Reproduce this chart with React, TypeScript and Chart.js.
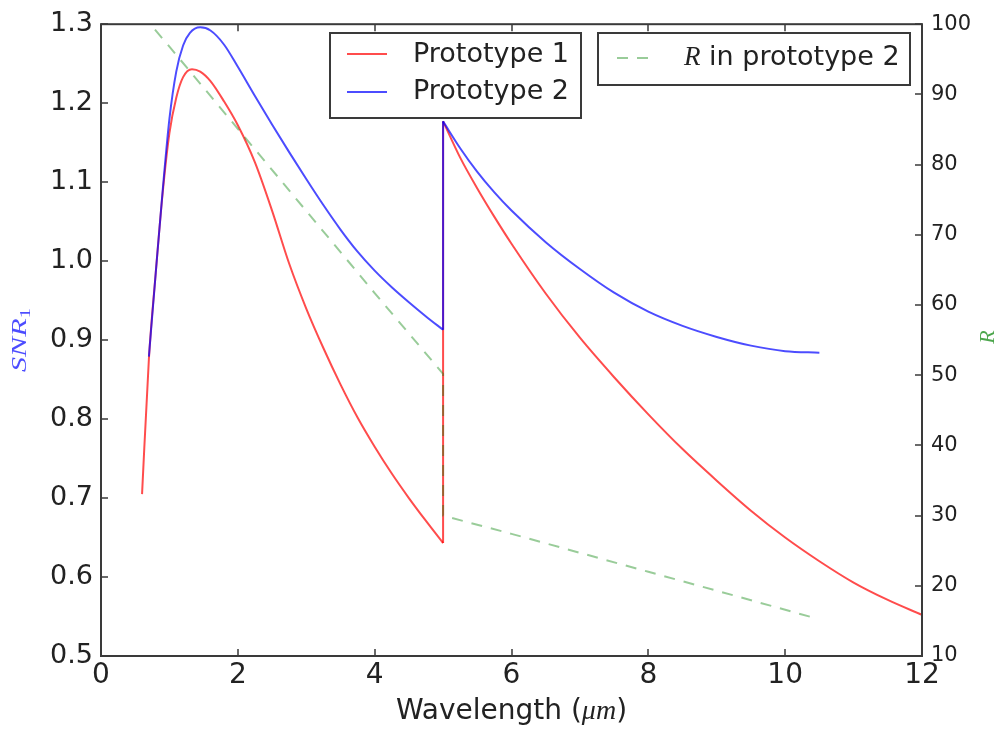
import React, { useEffect, useRef } from "react";
import { Chart, registerables } from "chart.js";

Chart.register(...registerables);

// ---- Data ----
const proto1Wavelength = [
  0.6, 0.7, 0.8, 0.9, 1.0, 1.1, 1.2, 1.33, 1.45, 1.6, 1.8, 2.0, 2.25, 2.5, 2.75, 3.0, 3.25, 3.5, 3.75, 4.0, 4.25, 4.5, 4.75, 5.0,
  5.0, 5.25, 5.5, 5.75, 6.0, 6.5, 7.0, 7.5, 8.0, 8.5, 9.0, 9.5, 10.0, 10.5, 11.0, 11.5, 12.0,
];
const proto1Snr = [
  0.705, 0.876, 0.985, 1.085, 1.162, 1.207, 1.233, 1.243, 1.24, 1.228, 1.202, 1.172, 1.125, 1.064, 0.997, 0.94, 0.89, 0.844, 0.802, 0.765, 0.731, 0.7, 0.671, 0.643,
  1.177, 1.131, 1.092, 1.056, 1.022, 0.959, 0.903, 0.853, 0.806, 0.762, 0.722, 0.684, 0.65, 0.62, 0.593, 0.571, 0.552,
];

const proto2Wavelength = [
  0.7, 0.8, 0.9, 1.0, 1.1, 1.2, 1.3, 1.45, 1.6, 1.8, 2.0, 2.25, 2.5, 2.75, 3.0, 3.25, 3.5, 3.75, 4.0, 4.25, 4.5, 4.75, 5.0,
  5.0, 5.25, 5.5, 5.75, 6.0, 6.5, 7.0, 7.5, 8.0, 8.5, 9.0, 9.5, 10.0, 10.5,
];
const proto2Snr = [
  0.879, 0.985, 1.088, 1.18, 1.24, 1.273, 1.289, 1.296, 1.292, 1.274, 1.246, 1.209, 1.173, 1.138, 1.104, 1.071, 1.04, 1.012, 0.988, 0.967, 0.948, 0.93, 0.913,
  1.177, 1.143, 1.113, 1.087, 1.064, 1.024, 0.99, 0.96, 0.936, 0.918, 0.904, 0.893, 0.886, 0.884,
];

const rWavelength = [0.6, 1.0, 2.0, 3.0, 4.0, 5.0, 5.0, 6.0, 7.0, 8.0, 9.0, 10.4];
const rValues = [101.4, 96.8, 85.1, 73.4, 61.7, 50.2, 30.0, 27.4, 24.7, 22.0, 19.3, 15.5];

const xRange = [0, 12];
const snrRange = [0.5, 1.3];
const rRange = [10, 100];

const seriesLabels = ["Prototype 1", "Prototype 2"];
const rLabelRest = " in prototype 2";

const RED = "rgba(255,0,0,0.7)";
const BLUE = "rgba(0,0,255,0.7)";
const GREEN = "rgba(0,128,0,0.4)";
const DARK = "#222";
const FRAME = "#3a3a3a";

const toPoints = (xs: number[], ys: number[]) => xs.map((x, i) => ({ x, y: ys[i] }));

// split a series at its vertical jump (repeated wavelength) into: before, jump, after
function splitAtJump(xs: number[], ys: number[]) {
  const pts = toPoints(xs, ys);
  let j = -1;
  for (let i = 1; i < xs.length; i++) if (xs[i] === xs[i - 1]) j = i;
  if (j < 0) return [pts];
  return [pts.slice(0, j), pts.slice(j - 1, j + 1), pts.slice(j)];
}

const decorPlugin = {
  id: "decor",
  afterDraw(chart: any) {
    const ctx = chart.ctx as CanvasRenderingContext2D;
    const { left, right, top, bottom } = chart.chartArea;
    const sx = chart.scales.x;
    const sy = chart.scales.y;
    const sy2 = chart.scales.y2;
    const TL = 7;
    ctx.save();

    // inward tick marks
    ctx.strokeStyle = FRAME;
    ctx.lineWidth = 1.5;
    ctx.beginPath();
    sx.ticks.forEach((t: any) => {
      const px = Math.round(sx.getPixelForValue(t.value));
      ctx.moveTo(px, bottom);
      ctx.lineTo(px, bottom - TL);
      ctx.moveTo(px, top);
      ctx.lineTo(px, top + TL);
    });
    sy.ticks.forEach((t: any) => {
      const py = Math.round(sy.getPixelForValue(t.value));
      ctx.moveTo(left, py);
      ctx.lineTo(left + TL, py);
    });
    sy2.ticks.forEach((t: any) => {
      const py = Math.round(sy2.getPixelForValue(t.value));
      ctx.moveTo(right, py);
      ctx.lineTo(right - TL, py);
    });
    ctx.stroke();

    // frame
    ctx.lineWidth = 2;
    ctx.strokeRect(left, top, right - left, bottom - top);

    // x axis title with math part
    const parts = [
      { t: "Wavelength (", f: '28px "DejaVu Sans"' },
      { t: "\u03bcm", f: 'italic 28px "Liberation Serif"' },
      { t: ")", f: '28px "DejaVu Sans"' },
    ];
    let total = 0;
    parts.forEach((p) => {
      ctx.font = p.f;
      total += ctx.measureText(p.t).width;
    });
    let cx = (left + right) / 2 - total / 2;
    ctx.fillStyle = DARK;
    ctx.textBaseline = "middle";
    ctx.textAlign = "left";
    parts.forEach((p) => {
      ctx.font = p.f;
      ctx.fillText(p.t, cx, 712);
      cx += ctx.measureText(p.t).width;
    });

    // left title SNR_1
    ctx.save();
    ctx.translate(19, 340);
    ctx.rotate(-Math.PI / 2);
    ctx.fillStyle = BLUE;
    ctx.font = 'italic 22px "Liberation Serif"';
    const wS = ctx.measureText("SNR").width;
    ctx.font = '15px "Liberation Serif"';
    const w1 = ctx.measureText("1").width;
    const tw = wS + w1;
    ctx.scale(64 / tw, 1);
    ctx.font = 'italic 22px "Liberation Serif"';
    ctx.textBaseline = "alphabetic";
    ctx.fillText("SNR", -tw / 2, 7);
    ctx.font = '15px "Liberation Serif"';
    ctx.fillText("1", -tw / 2 + wS, 11);
    ctx.restore();

    // right title R
    ctx.save();
    ctx.translate(988, 337);
    ctx.rotate(-Math.PI / 2);
    ctx.fillStyle = "rgba(0,128,0,0.7)";
    ctx.font = 'italic 22px "Liberation Serif"';
    ctx.textAlign = "center";
    ctx.textBaseline = "middle";
    ctx.fillText("R", 0, 0);
    ctx.restore();

    // legend boxes
    ctx.fillStyle = "#fff";
    ctx.strokeStyle = FRAME;
    ctx.lineWidth = 2;
    ctx.fillRect(330, 33, 251, 85);
    ctx.strokeRect(330, 33, 251, 85);
    ctx.fillRect(598, 33, 312, 52);
    ctx.strokeRect(598, 33, 312, 52);

    ctx.lineWidth = 2;
    ctx.strokeStyle = RED;
    ctx.beginPath();
    ctx.moveTo(347, 54);
    ctx.lineTo(387, 54);
    ctx.stroke();
    ctx.strokeStyle = BLUE;
    ctx.beginPath();
    ctx.moveTo(347, 92);
    ctx.lineTo(387, 92);
    ctx.stroke();
    ctx.strokeStyle = GREEN;
    ctx.setLineDash([11, 9]);
    ctx.beginPath();
    ctx.moveTo(617, 58);
    ctx.lineTo(649, 58);
    ctx.stroke();
    ctx.setLineDash([]);

    ctx.fillStyle = DARK;
    ctx.textAlign = "left";
    ctx.textBaseline = "middle";
    ctx.font = '27px "DejaVu Sans"';
    ctx.fillText(seriesLabels[0], 413, 55);
    ctx.fillText(seriesLabels[1], 413, 92);
    ctx.font = 'italic 27px "Liberation Serif"';
    ctx.fillText("R", 684, 58);
    const wr = ctx.measureText("R").width;
    ctx.font = '27px "DejaVu Sans"';
    ctx.fillText(rLabelRest, 684 + wr, 58);

    ctx.restore();
  },
};

export default function App() {
  const ref = useRef<HTMLCanvasElement | null>(null);

  useEffect(() => {
    if (!ref.current) return;
    Chart.defaults.font.family = '"DejaVu Sans"';

    const lineDs = (data: any[], color: string, axis: string, extra: any = {}) => ({
      data,
      yAxisID: axis,
      borderColor: color,
      borderWidth: 2,
      pointRadius: 0,
      fill: false,
      cubicInterpolationMode: "monotone",
      ...extra,
    });

    const blueSegs = splitAtJump(proto2Wavelength, proto2Snr);
    const redSegs = splitAtJump(proto1Wavelength, proto1Snr);

    const chart = new Chart(ref.current, {
      type: "line",
      data: {
        datasets: [
          lineDs(toPoints(rWavelength, rValues), GREEN, "y2", {
            borderDash: [11, 9],
            cubicInterpolationMode: "default",
            tension: 0,
          }),
          ...blueSegs.map((s) => lineDs(s, BLUE, "y")),
          ...redSegs.map((s) => lineDs(s, RED, "y")),
        ],
      },
      options: {
        animation: false,
        responsive: false,
        maintainAspectRatio: false,
        layout: { padding: { top: 20, left: 0, right: 0, bottom: 0 } },
        plugins: { legend: { display: false }, tooltip: { enabled: false } },
        scales: {
          x: {
            type: "linear",
            min: xRange[0],
            max: xRange[1],
            ticks: { stepSize: 2, font: { size: 28 }, color: DARK, padding: 3, maxRotation: 0, autoSkip: false },
            grid: { display: false, drawTicks: false },
            border: { display: false },
            afterFit: (s: any) => {
              s.height = 78;
            },
          },
          y: {
            type: "linear",
            position: "left",
            min: snrRange[0],
            max: snrRange[1],
            ticks: {
              stepSize: 0.1,
              font: { size: 27 },
              color: DARK,
              padding: 8,
              autoSkip: false,
              callback: (v: any) => Number(v).toFixed(1),
            },
            grid: { display: false, drawTicks: false },
            border: { display: false },
            afterFit: (s: any) => {
              s.width = 101;
            },
          },
          y2: {
            type: "linear",
            position: "right",
            min: rRange[0],
            max: rRange[1],
            ticks: { stepSize: 10, font: { size: 21 }, color: DARK, padding: 9, autoSkip: false },
            grid: { display: false, drawTicks: false },
            border: { display: false },
            afterFit: (s: any) => {
              s.width = 78;
            },
          },
        },
      },
      plugins: [decorPlugin],
    } as any);
    return () => chart.destroy();
  }, []);

  return (
    <div style={{ position: "absolute", left: 0, top: 0, width: 1000, height: 734, background: "#fff" }}>
      <canvas ref={ref} width={1000} height={734} style={{ width: 1000, height: 734, display: "block" }} />
    </div>
  );
}
